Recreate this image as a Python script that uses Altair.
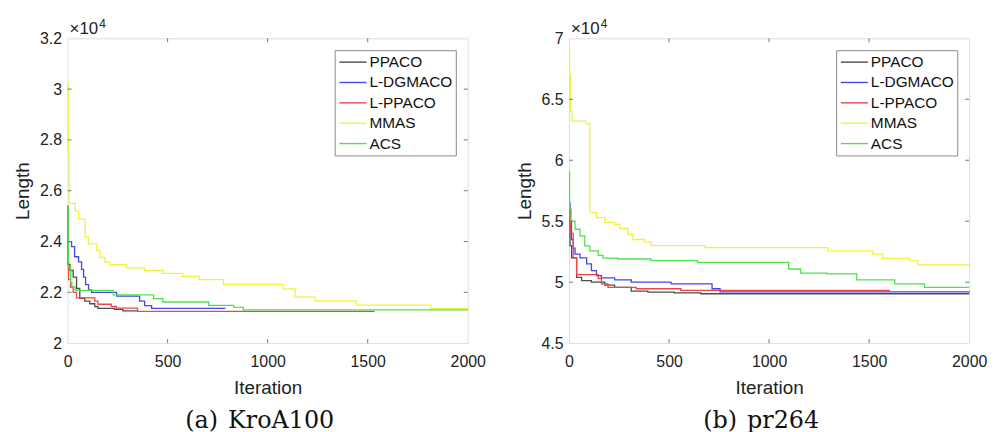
import altair as alt
import pandas as pd

# ---------------- data (lengths in units of 10^4) ----------------
ALGOS = ["PPACO", "L-DGMACO", "L-PPACO", "MMAS", "ACS"]
COLORS = ["#4d4d4d", "#4646ee", "#ee4646", "#f2f23e", "#4fe24f"]

# (a) KroA100
a_ppaco_it = [0, 2, 12, 28, 45, 61, 86, 111, 136, 152, 235, 276, 347]
a_ppaco_v = [2.54, 2.31, 2.286, 2.26, 2.215, 2.176, 2.165, 2.155, 2.144, 2.137, 2.133, 2.127, 2.127]
a_ldg_it = [0, 20, 35, 55, 70, 80, 90, 105, 120, 245, 360, 385, 420, 789]
a_ldg_v = [2.40, 2.38, 2.34, 2.32, 2.29, 2.26, 2.23, 2.21, 2.20, 2.185, 2.165, 2.148, 2.137, 2.137]
a_lpp_it = [0, 5, 15, 28, 45, 136, 152, 218, 243, 350, 1535]
a_lpp_v = [2.32, 2.25, 2.22, 2.20, 2.178, 2.165, 2.153, 2.145, 2.138, 2.125, 2.125]
a_mmas_it = [0, 3, 8, 38, 55, 88, 104, 146, 162, 187, 212, 294, 385, 476, 576, 658,
             779, 1077, 1137, 1236, 1444, 1816, 2000]
a_mmas_v = [3.02, 2.75, 2.55, 2.52, 2.488, 2.419, 2.391, 2.364, 2.338, 2.318, 2.309, 2.296,
            2.286, 2.275, 2.263, 2.25, 2.231, 2.214, 2.181, 2.166, 2.150, 2.136, 2.136]
a_acs_it = [0, 3, 15, 21, 38, 228, 430, 476, 705, 830, 878, 2000]
a_acs_v = [2.54, 2.30, 2.24, 2.221, 2.208, 2.19, 2.175, 2.162, 2.149, 2.141, 2.131, 2.131]

# (b) pr264
b_ppaco_it = [0, 5, 13, 38, 63, 112, 179, 228, 311, 394, 526, 659, 2000]
b_ppaco_v = [5.50, 5.30, 5.20, 5.04, 5.013, 5.0, 4.975, 4.958, 4.926, 4.918, 4.912, 4.905, 4.905]
b_ldg_it = [0, 5, 12, 21, 30, 55, 88, 112, 137, 162, 228, 311, 510, 715, 755, 2000]
b_ldg_v = [5.65, 5.50, 5.35, 5.28, 5.23, 5.20, 5.15, 5.094, 5.053, 5.035, 5.019, 5.0,
           4.986, 4.946, 4.92, 4.915]
b_lpp_it = [0, 8, 21, 38, 146, 162, 195, 336, 559, 1600]
b_lpp_v = [5.60, 5.40, 5.20, 5.062, 5.03, 4.986, 4.958, 4.946, 4.932, 4.925]
b_mmas_it = [0, 3, 7, 15, 85, 104, 137, 179, 228, 253, 294, 319, 377, 410, 680,
             1295, 1519, 1568, 1702, 1742, 2000]
b_mmas_v = [6.89, 6.70, 6.40, 6.32, 6.30, 5.57, 5.53, 5.49, 5.475, 5.44, 5.393, 5.35,
            5.33, 5.30, 5.284, 5.257, 5.23, 5.195, 5.176, 5.141, 5.141]
b_acs_it = [0, 3, 10, 30, 55, 79, 104, 146, 170, 245, 410, 642, 1098, 1157, 1289,
            1438, 1628, 1777, 2000]
b_acs_v = [5.91, 5.60, 5.50, 5.434, 5.38, 5.298, 5.257, 5.22, 5.198, 5.19, 5.176,
           5.162, 5.108, 5.075, 5.068, 5.019, 4.986, 4.958, 4.958]

x_ticks = [0, 500, 1000, 1500, 2000]
a_y_ticks = [2, 2.2, 2.4, 2.6, 2.8, 3, 3.2]
b_y_ticks = [4.5, 5, 5.5, 6, 6.5, 7]

W, H = 403, 307
FONT = "Liberation Sans"


def frame(series, y_dom, y_ticks, title):
    rows = []
    for name, (its, vs) in zip(ALGOS, series):
        for i, v in zip(its, vs):
            rows.append({"algo": name, "iter": i, "len": v})
    df = pd.DataFrame(rows)

    xs = alt.Scale(domain=[0, 2000], nice=False)
    ys = alt.Scale(domain=y_dom, nice=False, zero=False)
    color = alt.Color(
        "algo:N",
        scale=alt.Scale(domain=ALGOS, range=COLORS),
        sort=ALGOS,
        legend=alt.Legend(
            title=None, orient="top-right", offset=12,
            strokeColor="#8a8a8a", fillColor="white", padding=3,
            symbolType="M-0.9,0H2.5", symbolSize=256, symbolStrokeWidth=1.4,
            symbolFillColor="transparent",
            labelFont=FONT, labelFontSize=15.5, labelColor="#111",
            labelOffset=14, rowPadding=2.5,
        ),
    )
    lines = alt.Chart(df).mark_line(interpolate="step-after", strokeWidth=1.3).encode(
        x=alt.X("iter:Q", scale=xs,
                axis=alt.Axis(values=x_ticks, format="d", title="Iteration", grid=False,
                              domain=False, ticks=False, labelFont=FONT, labelFontSize=16,
                              labelColor="#222", labelPadding=11, titleFont=FONT,
                              titleFontSize=19, titleFontWeight="normal",
                              titleColor="#222", titlePadding=9, labelFlush=False)),
        y=alt.Y("len:Q", scale=ys,
                axis=alt.Axis(values=y_ticks, format="~g", title="Length", grid=False,
                              domain=False, ticks=False, labelFont=FONT, labelFontSize=16,
                              labelColor="#222", labelPadding=6, titleFont=FONT,
                              titleFontSize=19, titleFontWeight="normal",
                              titleColor="#222", titlePadding=7)),
        color=color,
        order=alt.Order("iter:Q"),
        detail="algo:N",
    )

    xt = pd.DataFrame({"t": x_ticks[1:-1]})
    yt = pd.DataFrame({"t": y_ticks[1:-1]})
    tick_style = dict(color="#777", strokeWidth=1)
    xb = alt.Chart(xt).mark_rule(**tick_style).encode(
        x=alt.X("t:Q", scale=xs), y=alt.value(H), y2=alt.value(H - 4))
    xtop = alt.Chart(xt).mark_rule(**tick_style).encode(
        x=alt.X("t:Q", scale=xs), y=alt.value(0), y2=alt.value(4))
    yl = alt.Chart(yt).mark_rule(**tick_style).encode(
        y=alt.Y("t:Q", scale=ys), x=alt.value(0), x2=alt.value(4))
    yr = alt.Chart(yt).mark_rule(**tick_style).encode(
        y=alt.Y("t:Q", scale=ys), x=alt.value(W), x2=alt.value(W - 4))

    mult = alt.Chart(pd.DataFrame({"s": ["×10"]})).mark_text(
        align="left", baseline="alphabetic", font=FONT, fontSize=17, color="#222"
    ).encode(text="s:N", x=alt.value(2), y=alt.value(-4))
    expo = alt.Chart(pd.DataFrame({"s": ["4"]})).mark_text(
        align="left", baseline="alphabetic", font=FONT, fontSize=12, color="#222"
    ).encode(text="s:N", x=alt.value(32), y=alt.value(-10))

    return alt.layer(lines, xb, xtop, yl, yr, mult, expo).properties(
        width=W, height=H,
        title=alt.TitleParams(title, orient="bottom", font="DejaVu Serif",
                              fontSize=24, fontWeight="normal", color="#111", offset=11,
                              dx=-8),
    )


left = frame([(a_ppaco_it, a_ppaco_v), (a_ldg_it, a_ldg_v), (a_lpp_it, a_lpp_v),
              (a_mmas_it, a_mmas_v), (a_acs_it, a_acs_v)],
             [2, 3.2], a_y_ticks, "(a)\u00a0\u200aKroA100")
right = frame([(b_ppaco_it, b_ppaco_v), (b_ldg_it, b_ldg_v), (b_lpp_it, b_lpp_v),
               (b_mmas_it, b_mmas_v), (b_acs_it, b_acs_v)],
              [4.5, 7], b_y_ticks, "(b)\u00a0\u200apr264")

chart = alt.hconcat(left, right, spacing=28).resolve_legend(color="independent").resolve_scale(
    y="independent", color="independent"
).configure_view(stroke="#6e6e6e", strokeWidth=1).configure(
    padding={"left": 5, "top": 8, "right": 5, "bottom": 0}
).configure_title(anchor="middle")

chart.save("out.html", embed_options={"renderer": "svg", "actions": False})
